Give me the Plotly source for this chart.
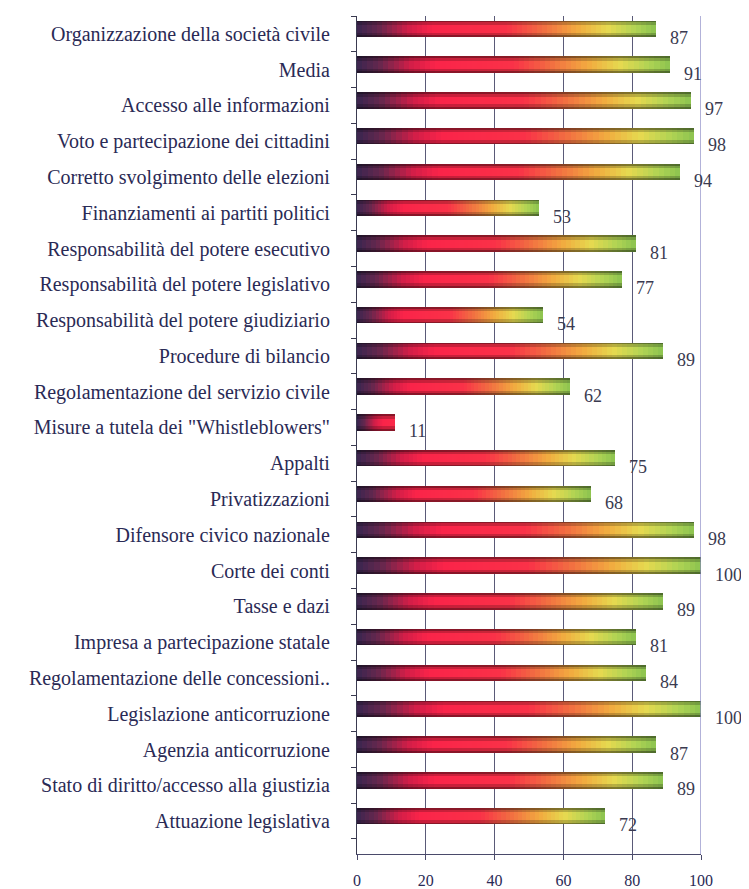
import plotly.graph_objects as go

categories = [
    "Organizzazione della società civile",
    "Media",
    "Accesso alle informazioni",
    "Voto e partecipazione dei cittadini",
    "Corretto svolgimento delle elezioni",
    "Finanziamenti ai partiti politici",
    "Responsabilità del potere esecutivo",
    "Responsabilità del potere legislativo",
    "Responsabilità del potere giudiziario",
    "Procedure di bilancio",
    "Regolamentazione del servizio civile",
    "Misure a tutela dei \"Whistleblowers\"",
    "Appalti",
    "Privatizzazioni",
    "Difensore civico nazionale",
    "Corte dei conti",
    "Tasse e dazi",
    "Impresa a partecipazione statale",
    "Regolamentazione delle concessioni..",
    "Legislazione anticorruzione",
    "Agenzia anticorruzione",
    "Stato di diritto/accesso alla giustizia",
    "Attuazione legislativa",
]
values = [87, 91, 97, 98, 94, 53, 81, 77, 54, 89, 62, 11, 75, 68, 98, 100, 89, 81, 84, 100, 87, 89, 72]
x_ticks = [0, 20, 40, 60, 80, 100]

positions = list(range(len(categories)))

SERIF = "Liberation Serif, Times New Roman, Tinos, DejaVu Serif, serif"

# gradient stops along each bar (fraction of bar length)
stops = [
    (0.00, (58, 38, 80)),
    (0.07, (100, 40, 78)),
    (0.17, (210, 30, 72)),
    (0.25, (250, 36, 74)),
    (0.50, (250, 50, 72)),
    (0.62, (242, 110, 66)),
    (0.74, (242, 172, 64)),
    (0.84, (230, 218, 80)),
    (0.93, (178, 212, 84)),
    (1.00, (140, 195, 80)),
]


def grad(t):
    t = max(0.0, min(1.0, t))
    for (t0, c0), (t1, c1) in zip(stops[:-1], stops[1:]):
        if t <= t1:
            f = (t - t0) / (t1 - t0) if t1 > t0 else 0
            return tuple(c0[i] + (c1[i] - c0[i]) * f for i in range(3))
    return stops[-1][1]


def rgb(c, k=1.0):
    return "rgb(%d,%d,%d)" % tuple(int(max(0, min(255, v * k))) for v in c)


N = 60
fig = go.Figure()
layers = [(0.46, 0.55), (0.36, 0.8), (0.22, 1.0)]
shift_up = 0.14
for width, shade in layers:
    for k in range(N - 1, -1, -1):
        t = (k + 0.5) / N
        colors = [rgb(grad(t * min(1.0, v / 30.0)), shade) for v in values]
        fig.add_trace(go.Bar(
            x=[v * (k + 1) / N for v in values],
            y=positions,
            orientation="h",
            width=width,
            offset=-shift_up - width / 2,
            marker=dict(color=colors, line=dict(width=0)),
            hoverinfo="skip",
            showlegend=False,
        ))

for v, p in zip(values, positions):
    fig.add_annotation(
        x=v, y=p, text=str(v), showarrow=False,
        xanchor="left", yanchor="middle", xshift=12, yshift=-4,
        font=dict(family=SERIF, size=18, color="#3a3a50"),
    )

fig.add_vline(x=100, line=dict(color="#7f7fc0", width=1.2))

# page body has an 8px default margin: the figure is sized to fit the window
fig.update_layout(
    width=741, height=881,
    margin=dict(l=349, r=48, t=8, b=35),
    paper_bgcolor="white", plot_bgcolor="white",
    barmode="overlay",
    bargap=0,
    font=dict(family=SERIF, color="#2a2a55"),
)
fig.update_xaxes(
    range=[0, 100], tickvals=x_ticks, showgrid=True, gridcolor="#5a5a78", gridwidth=1,
    showline=True, linecolor="#4a4a6a", linewidth=1.2, ticks="outside", ticklen=5,
    tickcolor="#4a4a6a", ticklabelstandoff=7, tickfont=dict(family=SERIF, size=16, color="#2a2a55"),
    zeroline=False, fixedrange=True, automargin=False,
)
fig.update_yaxes(
    range=[len(categories) - 0.5 + 0.42, -0.5], tickvals=positions, ticktext=categories,
    ticks="", showgrid=False, zeroline=False, showline=True, linecolor="#3a3a50", linewidth=1.2,
    ticklabelstandoff=22, tickfont=dict(family=SERIF, size=20, color="#2a2a55"),
    minor=dict(tick0=-0.5, dtick=1, ticks="outside", ticklen=5, tickcolor="#3a3a50", showgrid=False),
    automargin=False,
)

fig.write_html("out.html")
